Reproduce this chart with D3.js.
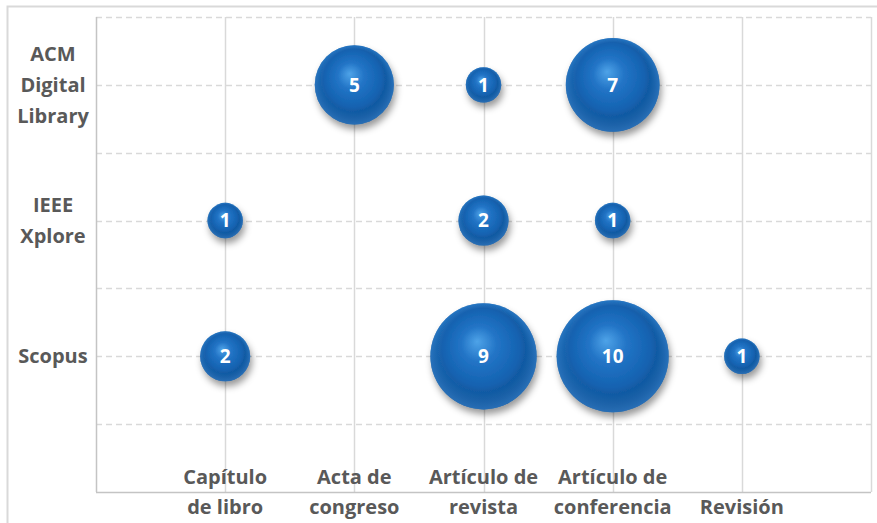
<!DOCTYPE html>
<html>
<head>
<meta charset="utf-8">
<script src="https://cdn.jsdelivr.net/npm/d3@7"></script>
<style>
  body { margin: 0; background: #fff; }
  text { font-family: "Open Sans", "DejaVu Sans", sans-serif; }
</style>
</head>
<body>
<div class="content"></div>
<script>
// categories (x) and sources (y)
var tipos = ['Capítulo de libro', 'Acta de congreso', 'Artículo de revista', 'Artículo de conferencia', 'Revisión'];
var tipoLabels = [['Capítulo', 'de libro'], ['Acta de', 'congreso'], ['Artículo de', 'revista'], ['Artículo de', 'conferencia'], ['Revisión']];
var fuentes = ['Scopus', 'IEEE Xplore', 'ACM Digital Library'];
var fuenteLabels = [['Scopus'], ['IEEE', 'Xplore'], ['ACM', 'Digital', 'Library']];

// publications per source and type (0 = no bubble)
var scopus = [2, 0, 9, 10, 1];
var ieee = [1, 0, 2, 1, 0];
var acm = [0, 5, 1, 7, 0];

var yTicks = [0.5, 1, 1.5, 2, 2.5, 3, 3.5];

var chart = {
    width: 877,
    height: 523,
    left: 96,
    right: 871,
    top: 17,
    bottom: 492,
    maxR: 56,
    text: '#595959',
    grid: '#d9d9d9',
    axis: '#c4c4c4'
};

var series = [scopus, ieee, acm];
var points = [];
series.forEach(function(vals, si) {
    vals.forEach(function(v, ti) {
        if (v > 0) points.push({ fuente: fuentes[si], tipo: tipos[ti], x: ti + 1, y: si + 1, value: v });
    });
});

var svg = d3.select('.content').append('svg')
    .attr('width', chart.width)
    .attr('height', chart.height);

var defs = svg.append('defs');
var grad = defs.append('radialGradient')
    .attr('id', 'sphere')
    .attr('cx', '50%').attr('cy', '45%').attr('r', '56%')
    .attr('fx', '44%').attr('fy', '36%');
[[0, '#4ea3e8'], [0.3, '#2274c6'], [0.65, '#1462b0'], [0.86, '#0d4d8f'], [1, '#093c74']].forEach(function(s) {
    grad.append('stop').attr('offset', s[0]).attr('stop-color', s[1]);
});
var rim = defs.append('radialGradient')
    .attr('id', 'rim')
    .attr('cx', '50%').attr('cy', '50%').attr('r', '50%')
    .attr('fx', '50%').attr('fy', '22%');
rim.append('stop').attr('offset', 0.78).attr('stop-color', '#3a8fe0').attr('stop-opacity', 0);
rim.append('stop').attr('offset', 1).attr('stop-color', '#3a8fe0').attr('stop-opacity', 0.6);

var shadow = defs.append('filter').attr('id', 'shadow')
    .attr('x', '-30%').attr('y', '-30%').attr('width', '160%').attr('height', '170%');
shadow.append('feDropShadow')
    .attr('dx', 2).attr('dy', 5).attr('stdDeviation', 3.5)
    .attr('flood-color', '#000').attr('flood-opacity', 0.4);

// outer chart border
svg.append('rect')
    .attr('x', 7.5).attr('y', 6.5)
    .attr('width', 900).attr('height', 560)
    .attr('fill', 'none').attr('stroke', chart.grid).attr('stroke-width', 2);

var x = d3.scaleLinear().domain([0, 6]).range([chart.left, chart.right]);
var y = d3.scaleLinear().domain([0, 3.5]).range([chart.bottom, chart.top]);
var r = d3.scaleSqrt().domain([0, 10]).range([0, chart.maxR]);

// horizontal dashed grid
svg.append('g')
    .selectAll('line').data(yTicks).join('line')
    .attr('x1', chart.left).attr('x2', chart.right)
    .attr('y1', function(d) { return Math.round(y(d)) + 0.5; })
    .attr('y2', function(d) { return Math.round(y(d)) + 0.5; })
    .attr('stroke', chart.grid).attr('stroke-width', 1.5)
    .attr('stroke-dasharray', '6,4');

// vertical solid grid
svg.append('g')
    .selectAll('line').data(d3.range(1, 7)).join('line')
    .attr('x1', function(d) { return Math.round(x(d)) + 0.5; })
    .attr('x2', function(d) { return Math.round(x(d)) + 0.5; })
    .attr('y1', chart.top).attr('y2', chart.bottom)
    .attr('stroke', chart.grid).attr('stroke-width', 1.5);

// axes
svg.append('line')
    .attr('x1', chart.left + 0.5).attr('x2', chart.left + 0.5)
    .attr('y1', chart.top).attr('y2', chart.bottom)
    .attr('stroke', chart.axis).attr('stroke-width', 1.5);
svg.append('line')
    .attr('x1', chart.left).attr('x2', chart.right)
    .attr('y1', chart.bottom + 0.5).attr('y2', chart.bottom + 0.5)
    .attr('stroke', chart.axis).attr('stroke-width', 1.5);

// bubbles
var bubbles = svg.append('g')
    .selectAll('g').data(points).join('g')
    .attr('transform', function(d) { return 'translate(' + x(d.x) + ',' + y(d.y) + ')'; });
bubbles.append('circle')
    .attr('r', function(d) { return r(d.value); })
    .attr('fill', 'url(#sphere)')
    .attr('filter', 'url(#shadow)');
bubbles.append('circle')
    .attr('r', function(d) { return r(d.value); })
    .attr('fill', 'url(#rim)');
bubbles.append('text')
    .attr('text-anchor', 'middle')
    .attr('dy', '0.36em')
    .attr('fill', '#fff')
    .attr('font-weight', 'bold')
    .attr('font-size', 19)
    .text(function(d) { return d.value; });

// x labels, bottom-aligned: last line sits below the axis
var lineH = 30;
svg.append('g')
    .selectAll('text').data(tipoLabels).join('text')
    .attr('x', function(d, i) { return x(i + 1); })
    .attr('y', function(d) { return chart.bottom + 15 - (d.length - 1) * lineH; })
    .attr('text-anchor', 'middle')
    .attr('fill', chart.text)
    .attr('font-weight', 'bold')
    .attr('font-size', 20)
    .each(function(d) {
        var t = d3.select(this);
        d.forEach(function(line, k) {
            t.append('tspan')
                .attr('x', t.attr('x'))
                .attr('y', +t.attr('y') + k * lineH)
                .attr('dy', '0.35em')
                .text(line);
        });
    });

// y labels
svg.append('g')
    .selectAll('text').data(fuenteLabels).join('text')
    .attr('x', 53)
    .attr('y', function(d, i) { return y(i + 1) - (d.length - 1) * (lineH + 1) / 2; })
    .attr('text-anchor', 'middle')
    .attr('fill', chart.text)
    .attr('font-weight', 'bold')
    .attr('font-size', 20)
    .each(function(d) {
        var t = d3.select(this);
        d.forEach(function(line, k) {
            t.append('tspan')
                .attr('x', t.attr('x'))
                .attr('y', +t.attr('y') + k * (lineH + 1))
                .attr('dy', '0.35em')
                .text(line);
        });
    });
</script>
</body>
</html>
